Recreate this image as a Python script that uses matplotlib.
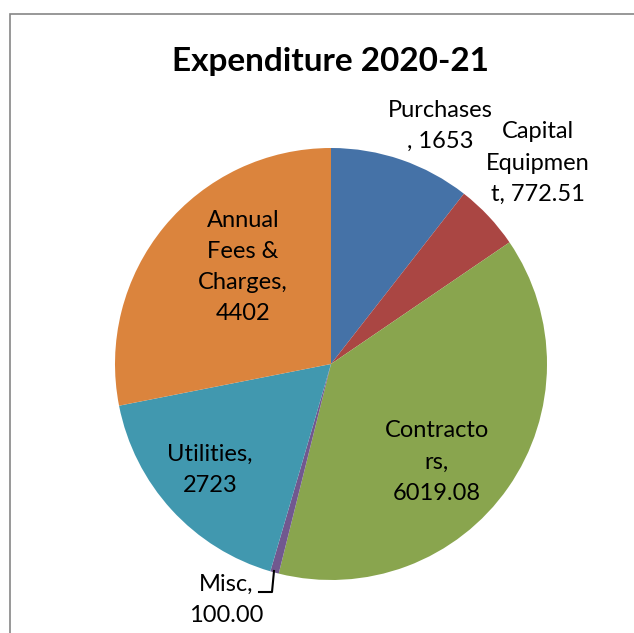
import matplotlib.pyplot as plt
from matplotlib.patches import Rectangle

# data
categories = ["Purchases", "Capital Equipment", "Contractors", "Misc", "Utilities", "Annual Fees & Charges"]
values = [1653, 772.51, 6019.08, 100.00, 2723, 4402]
label_texts = ["Purchases\n, 1653", "Capital\nEquipmen\nt, 772.51", "Contracto\nrs,\n6019.08",
               "Misc,\n100.00", "Utilities,\n2723", "Annual\nFees &\nCharges,\n4402"]
colors = ["#4572A7", "#AA4643", "#89A54E", "#71588F", "#4198AF", "#DB843D"]

plt.rcParams['font.family'] = ['Lato', 'DejaVu Sans']

W, H = 634, 633
fig = plt.figure(figsize=(W / 100, H / 100), dpi=100)

# pie centre (331, 364) px, radius 216 px
cx, cy, r = 331, 364, 216
ax = fig.add_axes([(cx - r) / W, (H - cy - r) / H, 2 * r / W, 2 * r / H])
wedges, _ = ax.pie(values, colors=colors, startangle=90, counterclock=False,
                   wedgeprops=dict(linewidth=0))
ax.set_xlim(-1, 1)
ax.set_ylim(-1, 1)


def px(x, y):
    # pixel -> data coords
    return (x - cx) / r, (cy - y) / r


# label centres in pixels
label_pos = [(440, 126), (538, 163), (437, 462), (226, 600), (210, 470), (243, 267)]
for txt, (x, y) in zip(label_texts, label_pos):
    dx, dy = px(x, y)
    ax.text(dx, dy, txt, ha='center', va='center', fontsize=17, linespacing=1.6,
            color='#000000', clip_on=False)

# leader line for Misc
lx, ly = zip(px(274, 571), px(272, 592), px(259, 592))
ax.plot(lx, ly, color='black', lw=1.5, clip_on=False)

fig.text(331 / W, 1 - 61 / H, "Expenditure 2020-21", ha='center', va='center',
         fontsize=24, fontweight='bold')

# chart area border (only top and left visible)
fig.add_artist(Rectangle((10 / W, -0.1), 1.2, 1.1 - 14 / H, transform=fig.transFigure,
                         fill=False, edgecolor='#868686', lw=1.2))

fig.savefig("out.png", dpi=100)
